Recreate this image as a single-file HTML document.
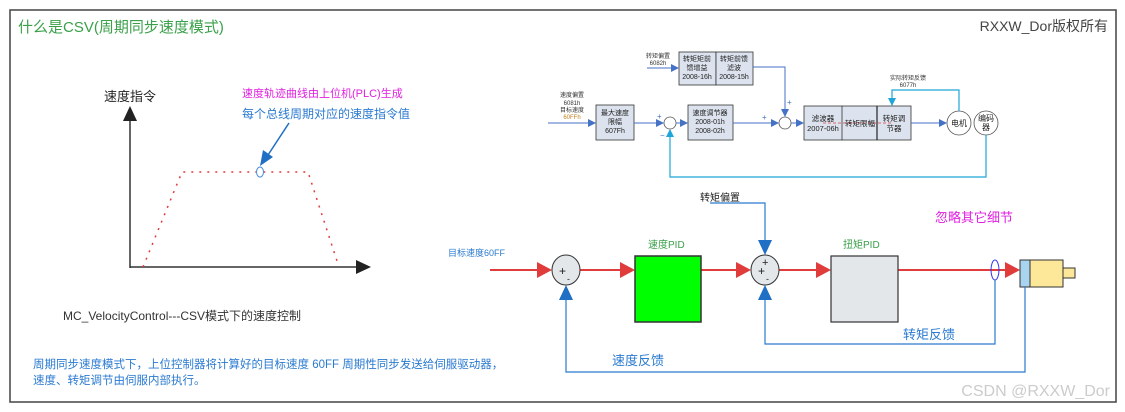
<!DOCTYPE html>
<html><head><meta charset="utf-8"><style>
html,body{margin:0;padding:0;background:#fff;width:1125px;height:412px;overflow:hidden}
svg{display:block;font-family:"Liberation Sans","Noto Sans CJK SC",sans-serif}
</style></head><body>
<svg width="1125" height="412" viewBox="0 0 1125 412" xmlns="http://www.w3.org/2000/svg">
<defs>
<marker id="ab" markerWidth="8" markerHeight="8" refX="7" refY="4" orient="auto" markerUnits="userSpaceOnUse"><path d="M0,0 L8,4 L0,8 z" fill="#4472c4"/></marker>
<marker id="ac" markerWidth="8" markerHeight="8" refX="7" refY="4" orient="auto" markerUnits="userSpaceOnUse"><path d="M0,0 L8,4 L0,8 z" fill="#1fa5d8"/></marker>
</defs>
<rect x="10" y="10" width="1106" height="392" fill="#fff" stroke="#444" stroke-width="1.5"/>
<text x="18" y="32" font-size="15" fill="#3aa04a">什么是CSV(周期同步速度模式)</text>
<text x="1108" y="31" font-size="14" fill="#444" text-anchor="end">RXXW_Dor版权所有</text>

<!-- left chart -->
<text x="104" y="101" font-size="13" fill="#222">速度指令</text>
<line x1="130" y1="268" x2="130" y2="120" stroke="#333" stroke-width="1.5"/>
<path d="M123,121 L130,106 L137,121 z" fill="#222"/>
<line x1="130" y1="267" x2="358" y2="267" stroke="#333" stroke-width="1.5"/>
<path d="M356,260 L371,267 L356,274 z" fill="#222"/>
<polyline points="143,267 182,172 308,172 338,264" fill="none" stroke="#e03c3c" stroke-width="1.5" stroke-dasharray="2,6"/>
<ellipse cx="260" cy="172" rx="3.5" ry="5" fill="#fff" stroke="#4a8fd8" stroke-width="1"/>
<line x1="289" y1="123" x2="268" y2="155" stroke="#1f6fc4" stroke-width="1.5"/>
<path d="M260,166 L263,150 L273,157 z" fill="#1f6fc4"/>
<text x="242" y="97" font-size="11" fill="#e020e0">速度轨迹曲线由上位机(PLC)生成</text>
<text x="242" y="118" font-size="12" fill="#2a7ad0">每个总线周期对应的速度指令值</text>
<text x="63" y="320" font-size="12" fill="#333">MC_VelocityControl---CSV模式下的速度控制</text>
<text x="33" y="368" font-size="11.5" fill="#2a7ad0">周期同步速度模式下，上位控制器将计算好的目标速度 60FF 周期性同步发送给伺服驱动器，</text>
<text x="33" y="384" font-size="11.5" fill="#2a7ad0">速度、转矩调节由伺服内部执行。</text>

<!-- top diagram -->
<g font-size="6" fill="#333" text-anchor="middle">
<text x="658" y="58">转矩偏置</text><text x="658" y="65">6082h</text>
<text x="572" y="97">速度偏置</text><text x="572" y="105">6081h</text><text x="572" y="112">目标速度</text><text x="572" y="119" fill="#c08020">60FFh</text>
<text x="908" y="80">实际转矩反馈</text><text x="908" y="87">6077h</text>
</g>
<line x1="647" y1="68" x2="678" y2="68" stroke="#4472c4" marker-end="url(#ab)"/>
<rect x="679" y="52" width="37" height="33" fill="#dce3ee" stroke="#333" stroke-width="0.8"/>
<rect x="716" y="52" width="37" height="33" fill="#dce3ee" stroke="#333" stroke-width="0.8"/>
<g font-size="7" fill="#222" text-anchor="middle">
<text x="697" y="61">转矩矩前</text><text x="697" y="70">馈增益</text><text x="697" y="79">2008-16h</text>
<text x="734" y="61">转矩前馈</text><text x="734" y="70">滤波</text><text x="734" y="79">2008-15h</text>
</g>
<polyline points="753,67 785,67 785,116" fill="none" stroke="#4472c4" marker-end="url(#ab)"/>
<line x1="548" y1="123" x2="595" y2="123" stroke="#4472c4" marker-end="url(#ab)"/>
<rect x="596" y="105" width="38" height="35" fill="#dce3ee" stroke="#333" stroke-width="0.8"/>
<g font-size="7" fill="#222" text-anchor="middle"><text x="615" y="115">最大速度</text><text x="615" y="124">限幅</text><text x="615" y="133">607Fh</text></g>
<line x1="634" y1="123" x2="663" y2="123" stroke="#4472c4" marker-end="url(#ab)"/>
<circle cx="670" cy="123" r="6" fill="#fff" stroke="#555" stroke-width="0.8"/>
<text x="657" y="119" font-size="8" fill="#4472c4">+</text><text x="660" y="138" font-size="8" fill="#4472c4">−</text>
<line x1="676" y1="123" x2="687" y2="123" stroke="#4472c4" marker-end="url(#ab)"/>
<rect x="688" y="105" width="45" height="35" fill="#dce3ee" stroke="#333" stroke-width="0.8"/>
<g font-size="7" fill="#222" text-anchor="middle"><text x="710" y="115">速度调节器</text><text x="710" y="124">2008-01h</text><text x="710" y="133">2008-02h</text></g>
<line x1="733" y1="123" x2="778" y2="123" stroke="#4472c4" marker-end="url(#ab)"/>
<text x="762" y="120" font-size="8" fill="#4472c4">+</text><text x="787" y="105" font-size="8" fill="#4472c4">+</text>
<circle cx="785" cy="123" r="6" fill="#fff" stroke="#555" stroke-width="0.8"/>
<line x1="791" y1="123" x2="803" y2="123" stroke="#4472c4" marker-end="url(#ab)"/>
<rect x="804" y="106" width="107" height="34" fill="#dce3ee" stroke="#333" stroke-width="0.8"/>
<line x1="842" y1="106" x2="842" y2="140" stroke="#333" stroke-width="0.8"/>
<line x1="877" y1="106" x2="877" y2="140" stroke="#222" stroke-width="1.2"/>
<line x1="823" y1="123" x2="892" y2="123" stroke="#e03c3c" stroke-width="0.7" stroke-dasharray="3,2"/>
<g font-size="7.5" fill="#222" text-anchor="middle"><text x="823" y="121">滤波器</text><text x="823" y="131">2007-06h</text><text x="860" y="126">转矩限幅</text><text x="894" y="121">转矩调</text><text x="894" y="131">节器</text></g>
<line x1="911" y1="123" x2="946" y2="123" stroke="#4472c4" marker-end="url(#ab)"/>
<circle cx="959" cy="123" r="12" fill="#fff" stroke="#555" stroke-width="0.8"/>
<circle cx="986" cy="123" r="12" fill="#fff" stroke="#555" stroke-width="0.8"/>
<text x="959" y="126" font-size="8" text-anchor="middle" fill="#222">电机</text>
<text x="986" y="121" font-size="8" text-anchor="middle" fill="#222">编码</text><text x="986" y="130" font-size="8" text-anchor="middle" fill="#222">器</text>
<polyline points="986,135 986,177 670,177 670,130" fill="none" stroke="#1fa5d8" stroke-width="1.2" marker-end="url(#ac)"/>
<polyline points="959,111 959,90 892,90 892,105" fill="none" stroke="#1fa5d8" stroke-width="1.2" marker-end="url(#ac)"/>

<!-- bottom diagram -->
<text x="448" y="256" font-size="9" fill="#2a7ad0">目标速度60FF</text>
<text x="700" y="201" font-size="10" fill="#222">转矩偏置</text>
<text x="935" y="222" font-size="13" fill="#e020e0">忽略其它细节</text>
<text x="648" y="248" font-size="10" fill="#3aa04a">速度PID</text>
<text x="843" y="248" font-size="10" fill="#3aa04a">扭矩PID</text>
<g stroke="#e03c3c" stroke-width="2">
<line x1="490" y1="270" x2="545" y2="270"/><line x1="580" y1="270" x2="625" y2="270"/><line x1="701" y1="270" x2="742" y2="270"/><line x1="779" y1="270" x2="822" y2="270"/><line x1="898" y1="270" x2="1010" y2="270"/>
</g>
<g fill="#e03c3c">
<path d="M537,262 L552,270 L537,278z"/><path d="M620,262 L635,270 L620,278z"/><path d="M736,262 L751,270 L736,278z"/><path d="M816,262 L831,270 L816,278z"/><path d="M1005,262 L1020,270 L1005,278z"/>
</g>
<ellipse cx="566" cy="270" rx="14" ry="15" fill="#e4e7ea" stroke="#333" stroke-width="1"/>
<text x="559" y="275" font-size="12" fill="#222">+</text><text x="567" y="282" font-size="9" fill="#222">-</text>
<rect x="635" y="256" width="66" height="66" fill="#00ff00" stroke="#333" stroke-width="1.5"/>
<ellipse cx="765" cy="270" rx="14" ry="15" fill="#e4e7ea" stroke="#333" stroke-width="1"/>
<text x="758" y="275" font-size="12" fill="#222">+</text><text x="762" y="266" font-size="11" fill="#222">+</text><text x="766" y="282" font-size="9" fill="#222">-</text>
<rect x="831" y="256" width="67" height="66" fill="#e4e7ea" stroke="#333" stroke-width="1.2"/>
<ellipse cx="995" cy="270" rx="4" ry="10" fill="none" stroke="#3333ee" stroke-width="1"/>
<rect x="1020" y="260" width="10" height="27" fill="#a8d4f0" stroke="#333"/>
<rect x="1030" y="260" width="33" height="27" fill="#fde89a" stroke="#333"/>
<rect x="1063" y="268" width="12" height="10" fill="#fde89a" stroke="#333"/>
<g stroke="#2a7ad0" stroke-width="1.2" fill="none">
<polyline points="710,203 765,203 765,245"/>
<polyline points="995,280 995,344 765,344 765,296"/>
<polyline points="1025,287 1025,372 566,372 566,296"/>
</g>
<g fill="#1f6fc4">
<path d="M758,240 L765,255 L772,240z"/><path d="M758,300 L765,285 L772,300z"/><path d="M559,300 L566,285 L573,300z"/>
</g>
<text x="903" y="339" font-size="13" fill="#2a7ad0">转矩反馈</text>
<text x="612" y="365" font-size="13" fill="#2a7ad0">速度反馈</text>
<text x="1110" y="396" font-size="16" fill="#ccc" text-anchor="end">CSDN @RXXW_Dor</text>
</svg>
</body></html>
